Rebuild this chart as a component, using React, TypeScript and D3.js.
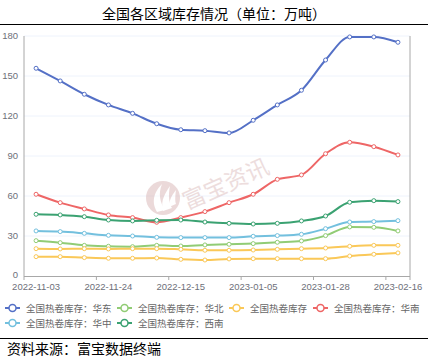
import React from 'react';
import * as d3 from 'd3';

const dates = [
  '2022-11-03', '2022-11-10', '2022-11-17', '2022-11-24', '2022-12-01', '2022-12-08',
  '2022-12-15', '2022-12-22', '2022-12-29', '2023-01-05', '2023-01-12', '2023-01-19',
  '2023-01-28', '2023-02-02', '2023-02-09', '2023-02-16',
];
const tickDates = ['2022-11-03', '2022-11-24', '2022-12-15', '2023-01-05', '2023-01-28', '2023-02-16'];

const eastValues = [155.8, 146.3, 136.3, 128.3, 122, 114.2, 109.7, 109, 107.3, 116.8, 128.3, 139.3, 162, 179.3, 179.3, 175.3];
const northValues = [26.5, 25, 23, 22.3, 22, 23, 22.5, 23.3, 23.8, 24.3, 25.3, 26.3, 30.3, 36.8, 36.5, 33.8];
const nationalValues = [20.5, 20.3, 20.5, 20.3, 20.5, 20.5, 20, 19.3, 19.3, 19.5, 20, 20.5, 21, 22.3, 23, 23];
const nationalValues2 = [14.5, 14.5, 13.8, 13.3, 13.3, 13.5, 12.5, 12, 12.8, 13, 13, 13, 13, 15, 16.3, 17.3];
const southValues = [61.3, 55, 50.3, 45.8, 43.8, 40.3, 43.8, 48.3, 55, 61.3, 72.5, 75.8, 91.7, 100.3, 97, 90.8];
const centralValues = [33.8, 33.3, 32, 30.5, 30, 29, 28.8, 28.8, 28.8, 29.8, 30.3, 31.3, 35.5, 40.5, 40.8, 41.5];
const southwestValues = [46.3, 45.8, 44.5, 42, 41.3, 41.8, 42, 40.5, 39.5, 39, 39.5, 41.3, 45, 55.3, 56.5, 55.8];

const yTicks = [0, 30, 60, 90, 120, 150, 180];

const series = [
  { name: '全国热卷库存：华东', color: '#5470c6', values: eastValues, legend: true },
  { name: '全国热卷库存：华北', color: '#91cc75', values: northValues, legend: true },
  { name: '全国热卷库存', color: '#fac858', values: nationalValues, legend: true },
  { name: '全国热卷库存', color: '#fac858', values: nationalValues2, legend: false },
  { name: '全国热卷库存：华南', color: '#ee6666', values: southValues, legend: true },
  { name: '全国热卷库存：华中', color: '#73c0de', values: centralValues, legend: true },
  { name: '全国热卷库存：西南', color: '#3ba272', values: southwestValues, legend: true },
];

// legend layout (two rows like the original)
const legendPos = [
  [5, 308], [117, 308], [229, 308], [313, 308], [5, 323], [117, 323],
];

const W = 428;
const H = 361;
const plot = { left: 24, right: 410, top: 36, bottom: 276 };
const font = '"Noto Sans CJK SC", "Noto Sans", sans-serif';
const numFont = '"Liberation Sans", Arial, sans-serif';

export default function App() {
  const x = d3.scaleBand<string>().domain(dates).range([plot.left, plot.right]);
  const y = d3.scaleLinear().domain([0, 180]).range([plot.bottom, plot.top]);
  const cx = (d: string) => (x(d) as number) + x.bandwidth() / 2;

  const line = d3.line<number>()
    .x((_, i) => cx(dates[i]))
    .y(v => y(v))
    .curve(d3.curveMonotoneX);

  const legendItems = series.filter(s => s.legend);

  return (
    <svg width={W} height={H} style={{ position: 'absolute', left: 0, top: 0, background: '#fff' }} fontFamily={font}>
      <rect width={W} height={H} fill="#fff" />
      <text x={W / 2} y={19} textAnchor="middle" fontSize={14} fill="#000">全国各区域库存情况（单位：万吨）</text>
      <line x1={0} x2={W} y1={24.5} y2={24.5} stroke="#000" strokeWidth={1} />

      {/* grid */}
      {yTicks.map(t => (
        <g key={t}>
          {t > 0 && <line x1={plot.left} x2={plot.right} y1={y(t)} y2={y(t)} stroke="#eef3fc" strokeWidth={1} />}
          <text x={18} y={y(t) + (t === 0 ? 2 : 3.3)} textAnchor="end" fontSize={9.5} fill="#6e7079" fontFamily={numFont}>{t}</text>
        </g>
      ))}

      {/* watermark */}
      <g opacity={0.5}>
        <circle cx={163} cy={198} r={17} fill="#d9b4b4" />
        <path d="M157,212 C150,200 156,190 162,184 C158,194 160,202 165,210 Z" fill="#fff" />
        <path d="M163,211 C160,200 166,192 170,186 C168,196 169,203 172,208 Z" fill="#fff" />
        <path d="M169,207 C169,199 173,194 176,190 C175,197 175,202 176,204 Z" fill="#fff" />
        <text x={0} y={0} fontSize={23} fill="#dcbcbc" transform="translate(187,210) rotate(-24)">富宝资讯</text>
      </g>

      {/* axes */}
      <line x1={plot.left} x2={plot.left} y1={plot.top} y2={plot.bottom} stroke="#a8a8a8" />
      <line x1={plot.right} x2={plot.right} y1={plot.top} y2={plot.bottom} stroke="#a8a8a8" />
      <line x1={plot.left} x2={plot.right} y1={plot.bottom + 0.5} y2={plot.bottom + 0.5} stroke="#a8a8a8" />
      {tickDates.map(d => (
        <g key={d}>
          <line x1={x(d) as number} x2={x(d) as number} y1={plot.bottom} y2={plot.bottom + 4} stroke="#a8a8a8" />
          <text x={cx(d)} y={plot.bottom + 14} textAnchor="middle" fontSize={9.5} fill="#6e7079" fontFamily={numFont}>{d}</text>
        </g>
      ))}
      <line x1={plot.right} x2={plot.right} y1={plot.bottom} y2={plot.bottom + 4} stroke="#a8a8a8" />

      {/* series */}
      {series.map((s, si) => (
        <g key={si}>
          <path d={line(s.values) || ''} fill="none" stroke={s.color} strokeWidth={2} />
          {s.values.map((v, i) => (
            <circle key={i} cx={cx(dates[i])} cy={y(v)} r={2} fill="#fff" stroke={s.color} strokeWidth={1} />
          ))}
        </g>
      ))}

      {/* legend */}
      {legendItems.map((s, i) => {
        const [lx, ly] = legendPos[i];
        return (
          <g key={i} transform={`translate(${lx},${ly})`}>
            <line x1={0} x2={15} y1={0} y2={0} stroke={s.color} strokeWidth={2} />
            <circle cx={7.5} cy={0} r={3.5} fill="#fff" stroke={s.color} strokeWidth={1.5} />
            <text x={21} y={3.5} fontSize={9.5} fill="#666">{s.name}</text>
          </g>
        );
      })}

      <line x1={0} x2={W} y1={338.5} y2={338.5} stroke="#000" strokeWidth={1} />
      <text x={7} y={354} fontSize={14} fill="#000">资料来源：富宝数据终端</text>
    </svg>
  );
}
